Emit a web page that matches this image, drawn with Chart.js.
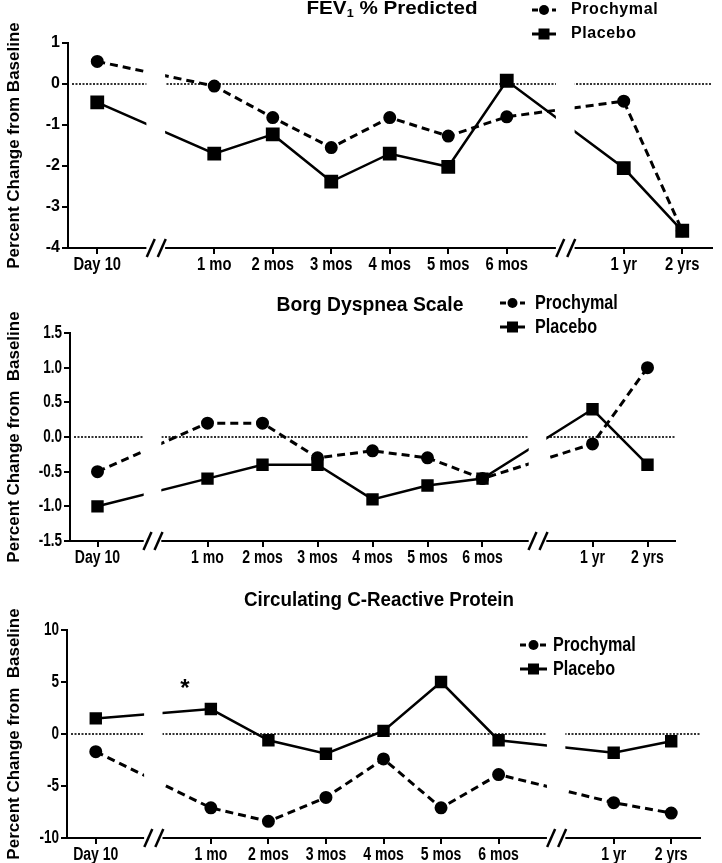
<!DOCTYPE html>
<html>
<head>
<meta charset="utf-8">
<script src="https://cdn.jsdelivr.net/npm/chart.js@4.4.1/dist/chart.umd.min.js"></script>
<style>
  body { margin: 0; background: #fff; width: 722px; height: 863px; position: relative; overflow: hidden; }
  canvas { position: absolute; left: 0; }
</style>
</head>
<body>
<canvas id="fev" width="722" height="283" style="top:0"></canvas>
<canvas id="borg" width="722" height="292" style="top:283px"></canvas>
<canvas id="crp" width="722" height="288" style="top:575px"></canvas>
<script>
// x categories; the empty slots are the axis breaks
const timepoints = ['Day 10', '', '1 mo', '2 mos', '3 mos', '4 mos', '5 mos', '6 mos', '', '1 yr', '2 yrs'];

const fevProchymal = [0.55, null, -0.05, -0.82, -1.55, -0.82, -1.27, -0.8, null, -0.42, -3.58];
const fevPlacebo   = [-0.45, null, -1.7, -1.23, -2.38, -1.7, -2.02, 0.08, null, -2.05, -3.58];

const borgProchymal = [-0.5, null, 0.2, 0.2, -0.3, -0.2, -0.3, -0.6, null, -0.1, 1.0];
const borgPlacebo   = [-1.0, null, -0.6, -0.4, -0.4, -0.9, -0.7, -0.6, null, 0.4, -0.4];

const crpProchymal = [-1.7, null, -7.1, -8.4, -6.1, -2.4, -7.1, -3.9, null, -6.6, -7.6];
const crpPlacebo   = [1.5, null, 2.4, -0.6, -1.9, 0.3, 5.0, -0.6, null, -1.8, -0.7];

const FONT = '"Liberation Sans", Arial, sans-serif';

// text squeezed horizontally by sx (the original uses a narrow face)
function squeezed(ctx, str, x, y, size, sx, align) {
  ctx.save();
  ctx.font = `bold ${size}px ${FONT}`;
  ctx.textAlign = align || 'left';
  ctx.textBaseline = 'middle';
  ctx.translate(x, y);
  ctx.scale(sx, 1);
  ctx.fillText(str, 0, 0);
  ctx.restore();
}

function drawTitle(ctx, parts, cx, cy, size, targetW) {
  const fonts = parts.map(p => `bold ${p.sub ? Math.round(size * 0.62) : size}px ${FONT}`);
  let total = 0;
  parts.forEach((p, i) => { ctx.font = fonts[i]; total += ctx.measureText(p.t).width; });
  const sx = targetW / total;
  ctx.save();
  ctx.translate(cx - targetW / 2, cy);
  ctx.scale(sx, 1);
  ctx.textAlign = 'left';
  ctx.textBaseline = 'middle';
  let x = 0;
  parts.forEach((p, i) => {
    ctx.font = fonts[i];
    ctx.fillText(p.t, x, p.sub ? size * 0.3 : 0);
    x += ctx.measureText(p.t).width;
  });
  ctx.restore();
}

function drawLegendRow(ctx, lg, y, dashed, text) {
  const mid = (lg.x0 + lg.x1) / 2;
  ctx.save();
  ctx.strokeStyle = '#000';
  ctx.fillStyle = '#000';
  ctx.lineWidth = 3;
  if (dashed) ctx.setLineDash([6, 4]);
  ctx.beginPath(); ctx.moveTo(lg.x0, y); ctx.lineTo(lg.x1, y); ctx.stroke();
  ctx.setLineDash([]);
  if (dashed) {
    ctx.beginPath(); ctx.arc(mid, y, 5, 0, Math.PI * 2); ctx.fill();
  } else {
    ctx.fillRect(mid - 5.5, y - 5.5, 11, 11);
  }
  if (lg.spacing) ctx.letterSpacing = lg.spacing;
  squeezed(ctx, text, lg.tx, y, lg.size, lg.sx);
  ctx.restore();
}

function panel(id, o) {
  const decor = {
    id: 'decor',
    beforeDatasetsDraw(chart) {
      const { ctx, chartArea: a, scales: { y } } = chart;
      const y0 = y.getPixelForValue(0);
      ctx.save();
      ctx.strokeStyle = '#333';
      ctx.lineWidth = 2;
      ctx.setLineDash([2, 1.5]);
      ctx.beginPath(); ctx.moveTo(a.left + 4, y0); ctx.lineTo(a.right, y0); ctx.stroke();
      ctx.restore();
    },
    afterDatasetsDraw(chart) {
      const { ctx, chartArea: a, scales: { x, y } } = chart;
      const step = x.getPixelForValue(1) - x.getPixelForValue(0);
      ctx.save();
      // axis breaks
      timepoints.forEach((t, i) => {
        if (t) return;
        const cx = x.getPixelForValue(i);
        ctx.fillStyle = '#fff';
        ctx.fillRect(cx - step * 0.16, a.top - 5, step * 0.32, a.bottom - a.top + 8);
        ctx.strokeStyle = '#000';
        ctx.lineWidth = 2.5;
        [-5, 6].forEach(dx => {
          ctx.beginPath();
          ctx.moveTo(cx + dx - 4, a.bottom + 9);
          ctx.lineTo(cx + dx + 4, a.bottom - 9);
          ctx.stroke();
        });
      });
      ctx.fillStyle = '#000';
      // tick labels, placed through the scales
      y.ticks.forEach(t => {
        squeezed(ctx, o.fmt(t.value), a.left - 8, y.getPixelForValue(t.value), o.yLab.size, o.yLab.sx, 'right');
      });
      x.ticks.forEach(t => {
        const lab = timepoints[t.value];
        if (lab) squeezed(ctx, lab, x.getPixelForValue(t.value), a.bottom + 17, o.xLab.size, o.xLab.sx, 'center');
      });
      drawTitle(ctx, o.title, o.titleX, o.titleY, o.titleSize, o.titleW);
      drawLegendRow(ctx, o.legend, o.legend.y1, true, 'Prochymal');
      drawLegendRow(ctx, o.legend, o.legend.y2, false, 'Placebo');
      // y axis title
      ctx.save();
      ctx.translate(14, (a.top + a.bottom) / 2);
      ctx.rotate(-Math.PI / 2);
      ctx.font = `bold 17px ${FONT}`;
      ctx.textAlign = 'center';
      ctx.textBaseline = 'middle';
      ctx.fillText(o.yTitle, 0, 0);
      ctx.restore();
      if (o.star) {
        ctx.font = `bold 24px ${FONT}`;
        ctx.textAlign = 'center';
        ctx.textBaseline = 'middle';
        ctx.fillText('*', x.getPixelForValue(o.star.x), y.getPixelForValue(o.star.y));
      }
      ctx.restore();
    }
  };

  return new Chart(document.getElementById(id), {
    type: 'line',
    data: {
      labels: timepoints,
      datasets: [
        {
          label: 'Prochymal', data: o.pro,
          borderColor: '#000', backgroundColor: '#000',
          borderWidth: 3, borderDash: [8, 5],
          pointStyle: 'circle', pointRadius: 5, pointHoverRadius: 5,
          spanGaps: true, tension: 0
        },
        {
          label: 'Placebo', data: o.pla,
          borderColor: '#000', backgroundColor: '#000',
          borderWidth: 2.5,
          pointStyle: 'rect', pointRadius: o.sq, pointHoverRadius: o.sq,
          spanGaps: true, tension: 0
        }
      ]
    },
    options: {
      responsive: false,
      animation: false,
      events: [],
      layout: { padding: { top: o.area.top, right: 722 - o.area.right, left: 0, bottom: 0 } },
      plugins: { legend: { display: false }, title: { display: false }, tooltip: { enabled: false } },
      scales: {
        x: {
          type: 'category',
          offset: true,
          afterFit: s => { s.height = o.h - o.area.bottom; },
          grid: {
            drawOnChartArea: false, offset: false, tickLength: 6, lineWidth: 2,
            color: c => timepoints[c.index] ? '#000' : 'rgba(0,0,0,0)'
          },
          border: { color: '#000', width: 2 },
          ticks: { display: false, autoSkip: false, maxRotation: 0 }
        },
        y: {
          min: o.min, max: o.max,
          afterFit: s => { s.width = o.area.left; },
          grid: { drawOnChartArea: false, tickLength: 6, lineWidth: 2, color: '#000' },
          border: { color: '#000', width: 2 },
          ticks: { display: false, stepSize: o.step }
        }
      }
    },
    plugins: [decor]
  });
}

panel('fev', {
  pro: fevProchymal, pla: fevPlacebo,
  min: -4, max: 1, step: 1, fmt: v => String(v),
  h: 283, area: { left: 68, right: 720, top: 43, bottom: 248 },
  sq: 8,
  xLab: { size: 18, sx: 0.82 },
  yLab: { size: 16, sx: 1 },
  title: [{ t: 'FEV' }, { t: '1', sub: true }, { t: ' % Predicted' }],
  titleX: 392, titleY: 9, titleSize: 18, titleW: 171,
  legend: { x0: 532, x1: 556, tx: 571, y1: 10, y2: 34, size: 16, sx: 1, spacing: '0.6px' },
  yTitle: 'Percent Change from Baseline'
});

panel('borg', {
  pro: borgProchymal, pla: borgPlacebo,
  min: -1.5, max: 1.5, step: 0.5, fmt: v => v.toFixed(1),
  h: 292, area: { left: 70, right: 675, top: 50, bottom: 258 },
  sq: 7,
  xLab: { size: 18, sx: 0.78 },
  yLab: { size: 18, sx: 0.75 },
  title: [{ t: 'Borg Dyspnea Scale' }],
  titleX: 370, titleY: 22, titleSize: 21, titleW: 187,
  legend: { x0: 500, x1: 525, tx: 535, y1: 20, y2: 44, size: 20, sx: 0.81 },
  yTitle: 'Percent Change from  Baseline'
});

panel('crp', {
  pro: crpProchymal, pla: crpPlacebo,
  min: -10, max: 10, step: 5, fmt: v => String(v),
  h: 288, area: { left: 67, right: 700, top: 55, bottom: 263 },
  sq: 7,
  xLab: { size: 18, sx: 0.78 },
  yLab: { size: 18, sx: 0.75 },
  title: [{ t: 'Circulating C-Reactive Protein' }],
  titleX: 379, titleY: 25, titleSize: 21, titleW: 270,
  legend: { x0: 520, x1: 547, tx: 553, y1: 70, y2: 94, size: 20, sx: 0.81 },
  yTitle: 'Percent Change from  Baseline',
  star: { x: 1.55, y: 4.3 }
});
</script>
</body>
</html>
